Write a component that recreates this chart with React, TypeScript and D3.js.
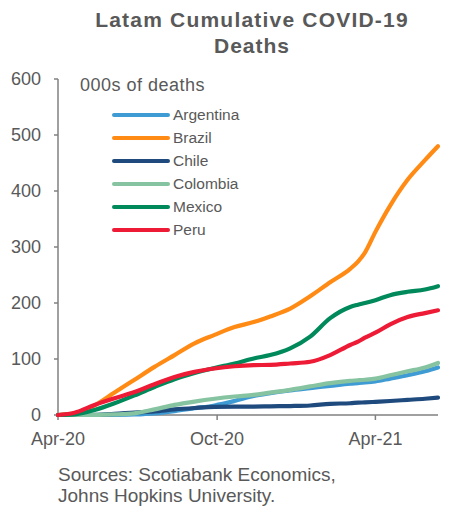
import React from "react";
import * as d3 from "d3";

// Observation dates shared by every series
const dates: string[] = [
  "2020-04-01", "2020-04-20", "2020-05-13", "2020-06-05", "2020-06-28",
  "2020-07-21", "2020-08-13", "2020-09-05", "2020-09-28", "2020-10-21",
  "2020-11-12", "2020-12-01", "2020-12-24", "2021-01-16", "2021-02-08",
  "2021-03-03", "2021-03-12", "2021-03-20", "2021-04-01", "2021-04-18",
  "2021-05-08", "2021-05-28", "2021-06-12",
];

// Cumulative deaths, thousands
const argentina = [0, 0, 0, 0.3, 1, 3, 7, 12, 17, 25, 34, 39, 44, 48, 52, 56, 57, 58, 60, 65, 71, 78, 85];
const brazil = [0, 3, 17, 40, 63, 86, 107, 128, 143, 157, 166, 176, 190, 212, 237, 261, 274, 290, 327, 374, 420, 455, 480];
const chile = [0, 0, 0.3, 2, 4.5, 6.5, 10, 12.5, 14.5, 15, 15, 15.5, 16, 17, 20, 21, 22, 22.5, 23.5, 25, 27, 29, 31];
const colombia = [0, 0, 0.3, 1, 3, 10, 18, 24, 29, 33, 36, 40, 45, 51, 57, 61, 62, 63, 65, 71, 78, 85, 93];
const mexico = [0, 1, 9, 21, 35, 50, 64, 75, 84, 92, 101, 107, 119, 140, 173, 193, 197, 200, 205, 214, 220, 224, 230];
const peru = [0, 4, 18, 30, 41, 55, 68, 77, 83, 87, 89, 89.5, 92, 95, 107, 125, 131, 138, 147, 162, 175, 182, 187];

const countries = ["Argentina", "Brazil", "Chile", "Colombia", "Mexico", "Peru"];
const colors = ["#3F9BD3", "#FF8A14", "#1F4A7E", "#86C3A0", "#00895A", "#ED1B35"];
const seriesValues = [argentina, brazil, chile, colombia, mexico, peru];

const yTicks = [0, 100, 200, 300, 400, 500, 600];
const xTickDates = ["2020-04-01", "2020-10-01", "2021-04-01"];
const xTickLabels = ["Apr-20", "Oct-20", "Apr-21"];

const W = 451;
const H = 506;
const FONT = "'Liberation Sans', Arial, Helvetica, sans-serif";
const TEXT = "#595959";
const AXIS = "#808080";

const parse = d3.timeParse("%Y-%m-%d");

export default function App() {
  const x = d3
    .scaleTime()
    .domain([parse("2020-04-01") as Date, parse("2021-06-12") as Date])
    .range([58, 438]);
  const y = d3.scaleLinear().domain([0, 600]).range([415, 79]);

  const line = d3
    .line<[Date, number]>()
    .x((d) => x(d[0]))
    .y((d) => y(d[1]))
    .curve(d3.curveMonotoneX);

  const parsedDates = dates.map((d) => parse(d) as Date);

  return (
    <div style={{ position: "absolute", left: 0, top: 0 }}>
      <svg width={W} height={H} style={{ display: "block", background: "#fff" }} fontFamily={FONT}>
        {/* title */}
        <text x={252} y={27} textAnchor="middle" fontSize={21} fontWeight="bold" fill={TEXT} letterSpacing={1.2}>
          Latam Cumulative COVID-19
        </text>
        <text x={252} y={53} textAnchor="middle" fontSize={21} fontWeight="bold" fill={TEXT} letterSpacing={1}>
          Deaths
        </text>

        {/* y axis */}
        <line x1={58} x2={58} y1={y(600)} y2={y(0)} stroke={AXIS} strokeWidth={1.5} />
        {yTicks.map((t) => (
          <g key={t}>
            <line x1={54} x2={58} y1={y(t)} y2={y(t)} stroke={AXIS} strokeWidth={1.5} />
            <text x={41} y={y(t)} dy="0.35em" textAnchor="end" fontSize={18} fill={TEXT}>
              {t}
            </text>
          </g>
        ))}

        {/* x axis */}
        <line x1={58} x2={438} y1={y(0)} y2={y(0)} stroke={AXIS} strokeWidth={1.5} />
        {xTickDates.map((d, i) => {
          const px = x(parse(d) as Date);
          return (
            <g key={d}>
              <line x1={px} x2={px} y1={y(0)} y2={y(0) + 5} stroke={AXIS} strokeWidth={1.5} />
              <text x={px} y={445} textAnchor="middle" fontSize={18} fill={TEXT}>
                {xTickLabels[i]}
              </text>
            </g>
          );
        })}

        {/* series */}
        {seriesValues.map((vals, i) => (
          <path
            key={countries[i]}
            d={line(parsedDates.map((d, j) => [d, vals[j]] as [Date, number])) || ""}
            fill="none"
            stroke={colors[i]}
            strokeWidth={4.2}
            strokeLinecap="round"
            strokeLinejoin="round"
          />
        ))}

        {/* legend */}
        <text x={80} y={91} fontSize={18} fill={TEXT} letterSpacing={0.5}>
          000s of deaths
        </text>
        {countries.map((c, i) => {
          const ly = 115 + i * 23;
          return (
            <g key={c}>
              <line x1={114} x2={168} y1={ly} y2={ly} stroke={colors[i]} strokeWidth={4} strokeLinecap="round" />
              <text x={173} y={ly} dy="0.35em" fontSize={15.5} fill={TEXT}>
                {c}
              </text>
            </g>
          );
        })}

        {/* source note */}
        <text x={58} y={481} fontSize={19} fill={TEXT}>
          Sources: Scotiabank Economics,
        </text>
        <text x={58} y={502} fontSize={19} fill={TEXT}>
          Johns Hopkins University.
        </text>
      </svg>
    </div>
  );
}
